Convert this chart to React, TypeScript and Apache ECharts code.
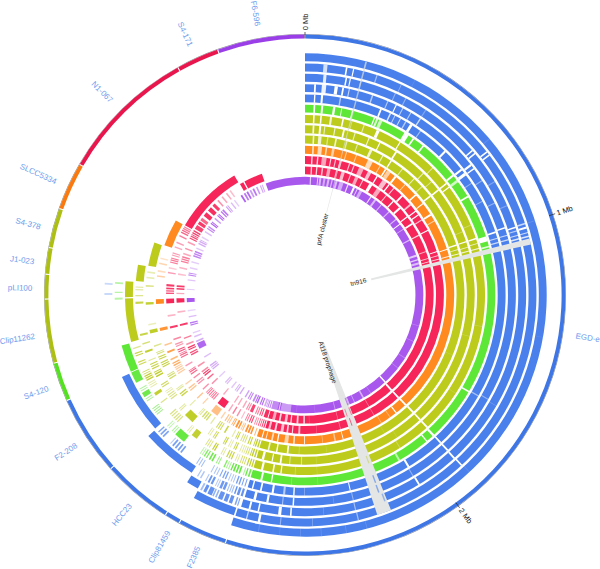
import React, { useEffect, useRef } from "react";
import * as echarts from "echarts";

type B = number[];
const BLUE = "#4a80ec", GREEN = "#5fe738", OLIVE = "#bccb1c", ORANGE = "#ff8a20", RED = "#f6265a", PURPLE = "#a958ee";

const strainNames = ["EGD-e", "F2385", "Clip81459", "HCC23", "F2-208", "S4-120", "Clip11262", "pLI100", "J1-023", "S4-378", "SLCC5334", "N1-067", "S4-171", "F6-596"];
const strainStarts = [0, 197.8, 208.9, 212.4, 228.2, 246.1, 254.8, 269.1, 274.6, 280.5, 289.4, 300.1, 330.8, 340.4];
const strainColors = ["#3f76e6", "#3f76e6", "#3f76e6", "#3f76e6", "#3f76e6", "#55e022", "#aebf14", "#aebf14", "#aebf14", "#aebf14", "#fb7a10", "#e8164c", "#e8164c", "#9a3fe8"];
const labelAngles = [98.6, 203, 210, 219.8, 236.7, 250, 261.3, 271.4, 277, 284.4, 294.4, 315, 335.3, 350];
const labelRadii = [286, 285, 291, 286, 286, 286, 291, 285, 285, 286, 293, 287, 287, 286];

const mbTicks = ["0 Mb", "1 Mb", "2 Mb"];
const mbAngles = [0, 72, 144];

const ringColors = [BLUE, BLUE, BLUE, BLUE, BLUE, GREEN, OLIVE, OLIVE, OLIVE, ORANGE, RED, RED, PURPLE];

const solidR1: B[] = [[0, 197.8, 1]];
const solidR2: B[] = [[0, 197.5, 1], [197.9, 208.7, 1]];
const solidR3: B[] = [[0, 196.8, 1], [209, 212.2, 1]];
const solidR4: B[] = [[0, 196.6, 1], [212.5, 228, 1]];
const solidR5: B[] = [[0, 196.6, 1], [228.3, 245.9, 1]];
const solidR6: B[] = [[0, 196.6, 1], [246.2, 254.6, 1]];
const solidR7: B[] = [[0, 196.6, 1], [254.9, 268.9, 1], [269.3, 274.4, 1]];
const solidR8: B[] = [[0, 196.6, 1], [274.7, 280.3, 1]];
const solidR9: B[] = [[0, 196.6, 1], [280.6, 289.2, 1]];
const solidR10: B[] = [[0, 196.6, 1], [289.5, 300, 1]];
const solidR11: B[] = [[0, 196.6, 1], [300.2, 329.4, 1]];
const solidR12: B[] = [[0, 196.6, 1], [329.6, 331.3, 1], [331.9, 340.4, 1]];
const solidR13: B[] = [[0, 196.6, 1], [340.6, 360, 1]];

// white or pale cuts in the long arcs: [from, to, share of colour left]
const gapsR1: B[] = [[14.5, 14.8, .85], [27, 27.2, .9], [49.6, 49.9, .9], [72, 72.2, .85], [100, 100.2, .92], [137, 137.2, .9], [165, 165.2, .85], [170, 170.2, .85], [176, 176.2, .85], [181, 181.2, .85], [186, 186.2, .9], [191, 191.3, .85]];
const gapsR2: B[] = [[4.6, 5.6, .25], [10.2, 10.6, 0], [12, 12.3, 0], [18, 18.3, .5], [24.5, 24.7, .6], [51.6, 52, 0], [52.6, 53, 0], [71.8, 72.2, .3], [72.8, 73.3, 0], [74.2, 74.5, .3], [75.1, 75.5, .2], [137.2, 137.6, 0], [166.5, 166.8, .5], [178, 178.2, .7], [186, 186.3, .6], [191.2, 191.8, 0], [194.5, 194.8, .3]];
const gapsR3: B[] = [[4.8, 5.6, .15], [10.6, 11, 0], [11.7, 12, 0], [14.5, 14.8, .6], [24, 24.3, .6], [27, 27.3, .6], [33, 33.3, .7], [49, 49.4, 0], [50, 50.4, 0], [59, 59.3, .7], [66, 66.3, .7], [72, 72.4, 0], [73, 73.3, .4], [74.2, 74.5, .3], [75.1, 75.5, .2], [120, 120.2, .8], [137.3, 137.8, 0], [148.7, 149.2, 0], [166.6, 166.9, .5], [175, 175.2, .8], [183.5, 183.9, 0], [186.2, 187, 0], [192, 192.4, 0], [194.3, 194.8, 0]];
const gapsR4: B[] = [[2.5, 3, 0], [4.6, 5.8, .1], [8.1, 9, 0], [10.2, 10.7, 0], [12, 12.3, .3], [18.5, 18.9, .4], [23, 23.3, .4], [25.5, 25.8, 0], [27.5, 27.8, .4], [30, 30.3, .4], [33, 33.4, .3], [51.6, 52.2, 0], [53, 53.4, 0], [57, 57.3, .6], [64, 64.3, .6], [71.2, 71.6, 0], [73.4, 73.7, .3], [74.6, 75, .3], [119.5, 119.8, .6], [137.2, 137.7, 0], [149, 149.3, .6], [166.6, 166.9, .6], [172, 172.2, .8], [183, 183.4, 0], [186, 186.3, .5], [190, 190.6, 0], [193.5, 194.2, 0]];
const gapsR5: B[] = [[2.6, 3, 0], [4.6, 5.2, 0], [10, 10.4, .4], [22, 22.5, 0], [25, 25.4, .2], [26.5, 26.8, .4], [28.3, 28.6, .3], [30, 30.4, .4], [31.6, 32.4, 0], [35, 35.3, .5], [44, 44.6, 0], [51, 51.6, 0], [52.5, 53.4, 0], [56, 56.3, .6], [62, 62.3, .6], [71.5, 72, 0], [73.4, 73.7, .3], [74.6, 75, .3], [120, 120.4, .5], [137.2, 137.7, 0], [148.6, 149.2, 0], [166.8, 167.1, 0], [180, 180.2, .6], [183, 183.4, 0], [185.7, 186.3, .4], [189, 189.6, 0], [192.5, 193, 0], [195, 195.4, 0]];
const gapsR6: B[] = [[2.6, 3.1, 0], [4.9, 5.5, 0], [8.5, 9.2, 0], [11, 11.3, .2], [14.3, 14.7, 0], [21.2, 21.6, 0], [22, 22.6, .2], [23, 24, .3], [31.5, 33, 0], [34.5, 35, 0], [38.2, 38.7, 0], [50.8, 51.4, 0], [52.8, 53.6, .3], [58.6, 59.1, 0], [72, 73.6, 0], [75, 75.5, .2], [120.3, 120.8, 0], [137.2, 137.9, 0], [140, 140.4, 0], [150, 150.6, .4], [176, 176.2, .8], [184, 184.2, .7], [190, 190.4, 0], [193, 193.6, 0]];
const gapsR7: B[] = [[2.6, 3.1, 0], [4.9, 5.4, 0], [8, 8.7, .2], [12, 12.5, 0], [15, 15.3, .6], [19, 19.4, .4], [23.5, 24.5, 0], [31.7, 32.1, 0], [45, 45.3, .4], [51.5, 52, 0], [53, 53.4, 0], [67, 67.3, .7], [71.5, 72, 0], [73.2, 73.5, .3], [74.8, 75.2, .2], [100, 100.2, .8], [123, 123.2, .8], [137, 137.6, 0], [148, 148.3, .7], [176, 176.2, .8], [183, 183.3, .7], [187.5, 187.9, 0], [190, 190.5, 0], [193.5, 194.2, 0]];
const gapsR8: B[] = [[2.6, 3.2, .1], [4.8, 5.5, 0], [6.5, 6.9, .3], [10, 10.4, .2], [13, 13.6, 0], [17, 17.4, .3], [22, 22.4, .2], [26, 26.4, 0], [32.2, 32.8, 0], [44, 44.4, .3], [48, 48.3, .5], [51.5, 52.1, 0], [68, 68.3, .7], [71.5, 71.9, 0], [73.5, 73.8, .3], [74.8, 75.2, .2], [104, 104.2, .8], [137, 137.6, 0], [147, 147.2, .8], [176, 176.2, .8], [181, 181.4, .5], [185, 185.4, .5], [188, 188.6, 0], [191, 191.4, 0], [194, 194.8, 0]];
const gapsR9: B[] = [[2.8, 3.4, .2], [4.8, 6, .2], [8, 8.5, .5], [11, 11.6, .2], [15, 15.5, .4], [19, 19.4, .4], [24, 25, .2], [29, 29.4, .3], [32.5, 33, 0], [37.5, 37.9, .4], [43, 43.4, .3], [47, 47.4, .5], [51.4, 52, 0], [71.5, 72, 0], [73.3, 73.6, .3], [74.8, 75.2, .2], [112, 112.2, .8], [137, 137.7, 0], [150, 150.2, .8], [172, 172.2, .8], [182, 182.3, .7], [186, 186.6, 0], [190, 190.5, 0], [193, 193.6, .2]];
const gapsR10: B[] = [[2.8, 3.5, .3], [5, 6.6, .3], [8, 8.6, .3], [10.5, 11.5, .4], [16, 16.4, .4], [20, 20.4, .4], [25, 27, .3], [30, 30.4, .4], [32.4, 33, 0], [33.4, 35, .4], [37, 37.8, 0], [42, 42.4, .4], [47.6, 48.2, 0], [52, 52.5, 0], [57, 57.8, 0], [60, 60.4, .4], [72, 72.4, 0], [74.8, 75.2, .2], [137.2, 137.9, 0], [142, 142.5, 0], [145, 145.3, .6], [149, 149.3, .6], [165, 165.3, 0], [168, 168.6, .5], [173, 173.3, .6], [180, 180.4, .2], [184, 184.6, .2], [186.5, 188, .35], [190.4, 190.9, 0], [192.5, 193.2, .3], [195, 195.4, .2]];
const gapsR11: B[] = [[2.6, 3.2, .2], [5, 5.6, .2], [7, 9, .4], [10.5, 11, .2], [12.5, 13, .3], [14.5, 15.4, .3], [18.5, 19, .3], [20.5, 21, .3], [23, 25, .4], [27, 28.5, .3], [31, 31.6, 0], [34, 36, .3], [37, 37.6, 0], [39.5, 40, .3], [44, 44.8, 0], [49, 49.8, .3], [52.6, 53.1, 0], [54.5, 55, 0], [57, 57.5, .3], [62, 62.5, 0], [71.6, 72, 0], [73.3, 73.7, .3], [74.8, 75.2, .2], [137.3, 138.1, 0], [150, 150.3, .6], [158.1, 158.6, .4], [165, 165.3, .6], [175, 175.2, .7], [182, 182.8, .3], [185, 185.5, .2], [187, 187.7, .2], [189, 190.2, .3], [192, 192.8, .2], [194.5, 195.4, .3]];
const gapsR12: B[] = [[2.6, 3.2, .2], [5, 5.6, .2], [7.5, 8.2, .3], [10, 11.5, .4], [14, 14.5, .3], [16.5, 18, .3], [20.5, 21, .3], [23, 24.5, .4], [26.5, 27, .3], [30, 31.5, 0], [34, 36, .4], [39, 39.5, .3], [43, 43.6, 0], [47, 48, 0], [52.3, 52.9, 0], [56, 56.8, 0], [62, 62.6, .2], [70, 70.5, .4], [73.3, 73.7, .3], [74.8, 75.2, .2], [137.3, 138.2, 0], [150, 150.3, .6], [165, 165.3, .6], [178, 178.2, .7], [180, 180.8, .3], [183, 183.8, .2], [186, 186.6, .2], [188, 189.2, .3], [191, 191.8, .2], [193.5, 194.8, .4]];
const gapsR13: B[] = [[2.4, 3, .3], [6, 6.5, .3], [7, 8, .4], [9, 10, .5], [11, 12, .4], [13, 13.6, .4], [15, 16, .4], [17, 19, .5], [21, 21.6, .2], [24, 25, 0], [26, 26.5, .3], [27.5, 29, .5], [33.6, 34.2, .2], [36, 37, .4], [40, 40.5, .4], [45, 45.6, .4], [50, 50.6, .4], [53, 53.5, 0], [56, 56.4, .5], [62, 62.6, .4], [70, 71, .3], [72.3, 73, .3], [74, 75, .4], [105, 105.3, .7], [113, 113.3, .7], [122, 122.4, .7], [128, 128.3, .7], [137, 137.7, 0], [146, 146.3, .7], [150, 150.8, .45], [155, 155.4, .5], [157.7, 158.2, .4], [165, 165.4, .6], [175, 175.2, .8], [184, 184.2, .8], [187, 192, .6], [192.5, 193, .3], [193.5, 196.6, .7]];

// thin match lines outside the long arcs: [share of colour, from, to, from, to, ...]
const fragsR3: B[] = [[.7, 197.6, 197.9, 198.2, 198.6], [.85, 199.3, 200.2, 200.6, 201.6, 202, 203.2], [.6, 203.6, 204, 204.4, 204.8], [.85, 205, 206.2, 206.6, 207.4], [.5, 207.8, 208.3]];
const fragsR4: B[] = [[.85, 197.2, 197.8, 198.2, 198.9, 199.3, 199.7], [.5, 200.2, 200.5, 200.8, 201.1, 201.5, 201.8], [.8, 202.3, 203, 203.3, 204], [.4, 204.4, 204.7, 205, 205.3], [.8, 206, 206.6, 207, 207.5], [.45, 208, 208.3, 209.5, 209.9, 210.5, 210.8]];
const fragsR5: B[] = [[.75, 197.3, 197.6, 198.2, 198.5, 199, 199.4, 199.8, 200.2], [.45, 200.8, 201.1, 201.5, 201.8, 202.3, 202.6], [.7, 203.2, 203.6, 204, 204.4, 205, 205.3], [.45, 206, 206.3, 206.8, 207.1, 207.8, 208.1], [.5, 211, 211.3, 211.8, 212.1, 212.6, 212.9], [.75, 218, 218.5, 219, 219.5, 220, 220.5, 221, 221.5], [.4, 222, 222.3], [.7, 224.8, 225.3, 225.7, 226.2, 226.7, 227.1], [.3, 270, 270.6, 273, 273.5]];
const fragsR6: B[] = [[.9, 197, 197.5, 198, 198.4], [.5, 198.8, 199.1], [.95, 200, 200.5, 200.9, 201.4, 201.8, 202.3, 202.7, 203.1], [.5, 203.6, 203.9, 204.3, 204.6], [.8, 205, 205.4], [.6, 207, 207.3, 207.7, 208], [.9, 209, 209.5, 209.9, 210.4], [.8, 211, 211.4, 211.8, 212.2], [.45, 212.6, 212.9, 213.3, 213.6], [.95, 219.5, 223], [.5, 223.5, 223.8, 224.2, 224.5], [.4, 225.5, 225.8, 226.2, 226.5], [.6, 231, 231.3, 231.7, 232, 232.4, 232.7, 233.1, 233.4], [.5, 236, 236.3, 236.7, 237], [.9, 237.5, 239], [.5, 239.5, 239.8, 240.2, 240.5], [.95, 242.5, 246], [.45, 268.6, 269.2, 270.6, 271, 273.4, 273.9]];
const fragsR7: B[] = [[.9, 197, 197.4, 197.8, 198.2, 198.6, 199], [.65, 199.6, 199.9, 200.3, 200.6, 201, 201.3], [.45, 202, 202.3, 202.7, 203], [.8, 204, 204.4, 204.8, 205.2, 205.6, 206], [.45, 207, 207.3, 207.7, 208], [.9, 210, 210.4, 210.7, 211.1], [.55, 212, 212.3, 212.7, 213, 213.4, 213.7], [.9, 217, 219], [.4, 220, 220.3, 220.7, 221], [.55, 225, 225.4, 225.8, 226.2, 226.6, 227, 227.5, 227.9, 228.3, 228.7], [.5, 233, 233.4], [.9, 236, 237], [.4, 239, 239.3, 239.7, 240, 240.4, 240.7], [.9, 241.5, 241.9, 242.2, 242.6, 242.9, 243.3], [.7, 243.7, 244, 244.4, 244.7], [.75, 247, 247.4, 247.8, 248.2], [.8, 250, 250.4, 250.8, 251.2], [.5, 252.5, 252.9]];
const fragsR8: B[] = [[.9, 197, 197.5, 197.9, 198.4, 198.7, 199], [.65, 199.6, 199.9, 200.3, 200.6], [.45, 201, 201.3, 201.7, 202, 202.5, 202.8], [.8, 204, 204.4, 204.7, 205], [.4, 206, 206.3, 206.7, 207], [.8, 208, 208.4, 208.7, 209], [.7, 212, 212.4, 212.7, 213], [.45, 214, 214.3, 214.7, 215], [.95, 221.5, 225], [.45, 227, 227.4, 227.7, 228], [.55, 232, 232.4, 232.8, 233.2, 233.6, 234], [.45, 234.5, 234.8, 235.2, 235.5], [.7, 237, 237.4, 237.8, 238.2], [.95, 241, 241.5, 241.9, 242.4, 242.7, 243], [.8, 244, 244.4, 244.8, 245.2, 245.6, 246], [.45, 247, 247.4], [.9, 250, 250.7], [.6, 253, 253.5], [.8, 256, 256.7], [.8, 267, 267.7], [.5, 269.6, 270], [.4, 271.6, 272, 272.5, 272.9]];
const fragsR9: B[] = [[.9, 197, 197.5, 197.9, 198.4, 198.7, 199], [.85, 200, 200.4, 200.8, 201.2], [.55, 202, 202.4, 202.8, 203.2, 203.6, 204], [.8, 205, 205.4, 205.7, 206], [.4, 207, 207.4], [.8, 210, 210.6], [.7, 212, 212.4, 212.8, 213.2, 213.6, 214], [.4, 216, 216.5], [.65, 218, 218.5, 218.9, 219.4, 219.8, 220.3], [.45, 221, 221.4, 221.7, 222], [.4, 226, 226.4], [.8, 230.5, 231, 231.4, 231.9], [.45, 233, 233.4, 233.7, 234], [.65, 238, 238.5, 238.9, 239.4, 239.7, 240], [.85, 243, 243.4, 243.8, 244.2, 244.6, 245], [.8, 246, 246.4, 246.8, 247.2], [.6, 248, 248.4, 248.7, 249], [.5, 251, 251.5], [.95, 256, 257.3], [.3, 259, 259.5], [.9, 266.5, 267.4], [.5, 273, 273.6], [.35, 276, 276.6, 278, 278.6]];
const fragsR10: B[] = [[1, 197, 198.8], [.6, 199.6, 200], [.9, 201, 201.6, 202, 202.7, 203.1, 203.8], [.55, 204.6, 205, 205.3, 205.6], [.9, 206.2, 206.8, 207.2, 207.9], [.7, 208.6, 209, 209.3, 209.6], [.5, 210.5, 210.9, 211.3, 211.7], [.5, 212.2, 212.7], [.4, 214, 214.5], [.55, 216, 219], [.4, 223, 223.5], [.5, 226, 226.5], [.5, 230, 230.5, 231, 231.5], [.4, 233, 233.5], [.45, 238, 238.5, 238.9, 239.4, 239.8, 240.3, 240.6, 241], [.7, 241.5, 242, 242.4, 242.9], [.6, 244, 244.6], [.8, 247, 247.7], [.5, 250, 250.6], [.9, 256, 257.2], [1, 266.5, 268.4], [.4, 277, 277.6], [.3, 279, 279.6], [.35, 282, 282.6], [.25, 284, 284.6]];
const fragsR11: B[] = [[.9, 197, 197.5, 197.9, 198.3], [.7, 198.7, 199.1, 199.5, 199.9], [.5, 200.4, 200.8, 201.2, 201.6], [.8, 202.5, 203, 203.4, 203.9], [.6, 204.5, 204.9, 205.3, 205.7], [.3, 207, 207.5], [.5, 209, 209.6], [.6, 211, 211.6], [.4, 213, 213.6], [1, 215.5, 219], [.6, 221, 221.5, 221.9, 222.4, 222.7, 223.1], [.6, 223.5, 224, 224.4, 224.9, 225.2, 225.6], [.5, 227, 227.6], [.5, 230, 230.5, 231, 231.5], [.55, 233, 233.6], [.7, 235, 235.5, 235.9, 236.4, 236.7, 237], [.45, 239, 239.6], [.7, 243, 243.5, 243.9, 244.4, 244.7, 245], [.8, 245.5, 246, 246.4, 246.9], [.5, 248, 248.5, 248.9, 249.4], [.55, 251, 251.6], [.9, 256, 256.9], [.35, 261, 261.7], [1, 266.5, 268.5], [.8, 270.4, 271, 271.4, 272], [.9, 272.4, 273.1, 273.6, 274.5], [.45, 279, 279.6], [.25, 281, 281.6], [.6, 283.5, 284, 284.4, 284.9, 285.2, 285.7], [.45, 286.5, 287, 287.4, 287.9], [.4, 290, 290.6], [.45, 292, 292.6], [.6, 295, 295.6], [.7, 296.6, 297.2, 297.6, 298.1], [.6, 298.4, 299, 299.2, 299.7]];
const fragsR12: B[] = [[.95, 197, 198.8], [.8, 199.5, 200, 200.4, 200.9], [.6, 201.5, 202, 202.4, 202.9], [.85, 204, 205.4], [.5, 206, 206.5, 206.9, 207.4], [.4, 208.5, 209.2], [.4, 211, 211.6], [.4, 213, 213.6], [.4, 219, 219.6], [.5, 226, 226.7], [.7, 229, 229.6], [.9, 231, 231.6, 232, 232.5], [.55, 233, 233.7], [.5, 236, 236.7], [.8, 242, 242.6, 243, 243.6], [.9, 244.5, 245, 245.4, 246], [.5, 247, 247.7], [.6, 250, 250.6], [.9, 256, 256.9], [.35, 262, 262.7], [1, 266.5, 268.5], [.4, 270.4, 271], [.9, 272.4, 273.1, 273.6, 274.4], [.3, 279, 279.7], [.35, 282, 282.7], [.6, 285, 285.6, 286, 286.6, 287, 287.7], [.4, 288.5, 289.2], [.5, 291, 291.6], [.45, 294, 294.7], [.85, 296, 296.6, 297, 297.6, 297.9, 298.3], [.9, 298.7, 299.3, 299.7, 300.3], [.85, 301, 303], [.9, 303.5, 305], [.7, 305.5, 306.9], [.95, 308, 310], [.95, 311, 313], [.9, 314, 315.4], [.5, 317, 317.7], [.4, 319.5, 320.2], [.4, 322, 322.7], [.3, 324, 324.7]];
const fragsR13: B[] = [[.7, 197, 197.6, 198, 198.6, 198.9, 199.2], [.5, 199.5, 200.3], [.85, 201, 201.6, 202, 202.6], [.9, 203.5, 204.2, 204.5, 205], [.7, 205.5, 206.4], [.7, 207.5, 208.1, 208.5, 209], [.55, 210, 210.7], [.5, 213, 213.7], [.45, 215, 215.6, 216, 216.5], [.35, 218, 218.7], [.4, 221, 221.6, 222, 222.6], [.3, 226, 226.7], [.5, 231, 231.6, 232, 232.6, 233, 233.7], [.4, 238, 238.7], [.9, 243, 246], [.5, 246.5, 247.3], [.4, 249, 249.7], [.3, 251, 251.7], [.8, 255, 255.6, 256, 256.7], [.4, 259, 259.7], [.25, 262, 262.7], [1, 266.5, 268.5], [.3, 272.5, 273], [.35, 277, 277.7], [.7, 279.5, 280.1, 280.5, 281], [.3, 283, 283.7], [.3, 286, 286.7], [.75, 289, 289.7, 290.1, 290.8, 291.2, 292], [.35, 293, 293.7], [.5, 295.5, 296.2, 296.6, 297.3, 297.6, 298], [.3, 299, 299.7], [.4, 302, 302.7], [.7, 304, 304.6, 305, 305.7], [.9, 307, 307.6, 307.9, 308.4], [.6, 310, 310.7], [.9, 312, 312.6, 312.9, 313.4], [.8, 314.5, 315.2, 315.6, 316.4], [.6, 318, 318.5, 318.9, 319.4], [.4, 321, 321.7], [.3, 323, 323.7], [.95, 327, 327.9], [.8, 328.8, 329.7], [.9, 330.3, 331.2], [.6, 332, 332.9], [.8, 333.6, 334.5], [.6, 335.5, 336.3], [.5, 337.5, 338.1, 338.5, 339]];

const solids = [solidR1, solidR2, solidR3, solidR4, solidR5, solidR6, solidR7, solidR8, solidR9, solidR10, solidR11, solidR12, solidR13];
const frags: B[][] = [[], [], fragsR3, fragsR4, fragsR5, fragsR6, fragsR7, fragsR8, fragsR9, fragsR10, fragsR11, fragsR12, fragsR13];
const gaps = [gapsR1, gapsR2, gapsR3, gapsR4, gapsR5, gapsR6, gapsR7, gapsR8, gapsR9, gapsR10, gapsR11, gapsR12, gapsR13];

const featureNames = ["prfA cluster", "tn916", "A118 prophage"];
const featureSpans = [[14.5, 14.9], [75.9, 77.4], [158.2, 161.8]];
const featureLabelAngles = [14.5, 76, 161.2];
const featureLabelRadii = [68, 55, 71];

const outerOf = (k: number) => 241.7 - k * 10.28;
const RING_W = 7.9;

type Row = { r: number; r0: number; a0: number; a1: number; color: string; opacity: number };
const sectorRows: Row[] = [];
const pushRow = (r: number, r0: number, a0: number, a1: number, color: string, opacity: number) =>
  sectorRows.push({ r, r0, a0, a1, color, opacity });

strainNames.forEach((_, i) => {
  const a0 = strainStarts[i];
  const a1 = i + 1 < strainStarts.length ? strainStarts[i + 1] : 360;
  pushRow(261, 260.5, a0, a1, "#7a7e84", 1);
  pushRow(260.5, 256.6, a0 + 0.12, a1 - 0.12, strainColors[i], 1);
});
ringColors.forEach((c, k) => {
  solids[k].forEach((b) => pushRow(outerOf(k), outerOf(k) - RING_W, b[0], b[1], c, b[2]));
  frags[k].forEach((g) => {
    for (let i = 1; i + 1 < g.length; i += 2) pushRow(outerOf(k), outerOf(k) - RING_W, g[i], g[i + 1], c, g[0]);
  });
});
ringColors.forEach((_, k) => {
  gaps[k].forEach((b) => pushRow(outerOf(k) + 0.2, outerOf(k) - RING_W - 0.2, b[0], b[1], "#ffffff", 1 - b[2]));
});
pushRow(241, 85, featureSpans[0][0], featureSpans[0][1], "#d9dddb", 0.7);
pushRow(231.5, 68, featureSpans[1][0], featureSpans[1][1], "#e3e6e4", 1);
pushRow(231.5, 51, featureSpans[2][0], featureSpans[2][1], "#e3e6e4", 1);
// small matches that stay visible inside the A118 prophage band
const phageFragments: B[] = [[11, 158.5, 159, .5], [11, 160.6, 161, .5], [12, 158.4, 159, .7], [10, 160, 160.4, .7], [6, 159, 159.4, .4], [4, 159.2, 159.6, .6], [3, 159.3, 159.7, .6], [2, 158.6, 159, .5]];
phageFragments.forEach((f) => pushRow(outerOf(f[0]), outerOf(f[0]) - RING_W, f[1], f[2], ringColors[f[0]], f[3]));

type T = { text: string; a: number; r: number; color: string; size: number };
const textRows: T[] = [];
strainNames.forEach((n, i) => textRows.push({ text: n, a: labelAngles[i], r: labelRadii[i], color: "#6d9cee", size: 8 }));
mbTicks.forEach((n, i) => textRows.push({ text: n, a: mbAngles[i], r: 273, color: "#111111", size: 7.5 }));
featureNames.forEach((n, i) => textRows.push({ text: n, a: featureLabelAngles[i], r: featureLabelRadii[i], color: "#222222", size: 6.5 }));

export default function App() {
  const ref = useRef<HTMLDivElement>(null);
  useEffect(() => {
    document.body.style.margin = "0";
    const chart = echarts.init(ref.current!, undefined, { renderer: "svg" });
    chart.setOption({
      animation: false,
      backgroundColor: "#ffffff",
      polar: { center: [305, 295], radius: [0, 261] },
      angleAxis: { type: "value", min: 0, max: 360, startAngle: 90, clockwise: true, show: false },
      radiusAxis: { type: "value", min: 0, max: 261, show: false },
      series: [
        {
          type: "custom",
          coordinateSystem: "polar",
          silent: true,
          clip: false,
          encode: { radius: 0, angle: 1 },
          data: sectorRows.map((s) => [s.r, s.a0, s.r0, s.a1]),
          renderItem: (params: any, api: any) => {
            const s = sectorRows[params.dataIndex];
            const p0 = api.coord([api.value(0), api.value(1)]);
            const p1 = api.coord([api.value(2), api.value(3)]);
            const cs = params.coordSys;
            return {
              type: "sector",
              shape: { cx: cs.cx, cy: cs.cy, r: p0[2], r0: p1[2], startAngle: -p0[3], endAngle: -p1[3], clockwise: true },
              style: { fill: s.color, opacity: s.opacity },
            };
          },
        },
        {
          type: "custom",
          coordinateSystem: "polar",
          silent: true,
          clip: false,
          encode: { radius: 0, angle: 1 },
          data: mbAngles.map((a) => [263, a, 256.6]),
          renderItem: (_: any, api: any) => {
            const a = api.coord([api.value(0), api.value(1)]);
            const b = api.coord([api.value(2), api.value(1)]);
            return {
              type: "line",
              shape: { x1: a[0], y1: a[1], x2: b[0], y2: b[1] },
              style: { stroke: "#222222", lineWidth: 0.7 },
            };
          },
        },
        {
          type: "custom",
          coordinateSystem: "polar",
          silent: true,
          clip: false,
          encode: { radius: 0, angle: 1 },
          data: textRows.map((t) => [t.r, t.a]),
          renderItem: (params: any, api: any) => {
            const t = textRows[params.dataIndex];
            const p = api.coord([api.value(0), api.value(1)]);
            const cw = t.a < 180 ? t.a - 90 : t.a - 270;
            return {
              type: "text",
              x: p[0],
              y: p[1],
              rotation: (-cw * Math.PI) / 180,
              style: {
                text: t.text,
                x: 0,
                y: 0,
                align: "center",
                verticalAlign: "middle",
                fill: t.color,
                font: `${t.size}px "Liberation Sans", Arial, sans-serif`,
              },
            };
          },
        },
      ],
    });
    return () => chart.dispose();
  }, []);
  return <div ref={ref} style={{ width: 600, height: 569 }} />;
}
